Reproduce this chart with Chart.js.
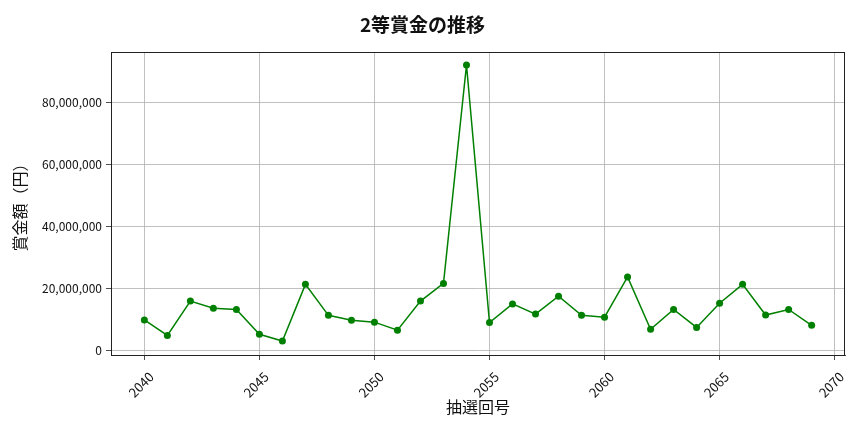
<!DOCTYPE html>
<html lang="ja">
<head>
<meta charset="utf-8">
<title>2等賞金の推移</title>
<script src="https://cdn.jsdelivr.net/npm/chart.js@4/dist/chart.umd.min.js"></script>
<style>
  html, body { margin: 0; padding: 0; background: #fff; }
  #wrap { width: 864px; height: 432px; }
</style>
</head>
<body>
<div id="wrap"><canvas id="prizeChart" width="864" height="432"></canvas></div>
<script>
// --- DONNÉES ---
const drawNumbers = [2040, 2041, 2042, 2043, 2044, 2045, 2046, 2047, 2048, 2049,
                     2050, 2051, 2052, 2053, 2054, 2055, 2056, 2057, 2058, 2059,
                     2060, 2061, 2062, 2063, 2064, 2065, 2066, 2067, 2068, 2069];
const prizeValues = [9700000, 4700000, 15800000, 13500000, 13100000, 5100000, 2900000, 21200000, 11200000, 9600000,
                     9000000, 6400000, 15800000, 21500000, 92000000, 8900000, 14900000, 11600000, 17400000, 11200000,
                     10600000, 23600000, 6700000, 13100000, 7300000, 15100000, 21200000, 11300000, 13100000, 8000000];
const xTicks = [2040, 2045, 2050, 2055, 2060, 2065, 2070];
const yTicks = [0, 20000000, 40000000, 60000000, 80000000];

const FONT = '"Noto Sans CJK JP", "Noto Sans", sans-serif';

// cadre complet autour de la zone de tracé
const frame = {
    id: 'frame',
    afterDatasetsDraw(chart) {
        const { ctx, chartArea: a } = chart;
        ctx.save();
        ctx.strokeStyle = '#222';
        ctx.lineWidth = 1;
        ctx.strokeRect(a.left + 0.5, a.top + 0.5, a.right - a.left - 1, a.bottom - a.top);
        ctx.restore();
    }
};

const points = drawNumbers.map((n, i) => ({ x: n, y: prizeValues[i] }));

new Chart(document.getElementById('prizeChart'), {
    type: 'line',
    data: {
        datasets: [{
            data: points,
            borderColor: '#008000',
            backgroundColor: '#008000',
            borderWidth: 1.5,
            pointRadius: 3.5,
            pointHoverRadius: 3.5,
            pointBorderWidth: 0,
            tension: 0,
            fill: false
        }]
    },
    options: {
        responsive: false,
        animation: false,
        devicePixelRatio: 1,
        layout: { padding: { left: 0, right: 19, top: 0, bottom: 0 } },
        plugins: {
            legend: { display: false },
            tooltip: { enabled: false },
            title: {
                display: true,
                text: '2等賞金の推移',
                color: '#111',
                font: { family: FONT, size: 19, weight: 'bold', lineHeight: 1.2 },
                padding: { top: 13, bottom: 16.2 }
            }
        },
        scales: {
            x: {
                type: 'linear',
                min: 2038.55,
                max: 2070.45,
                afterBuildTicks: s => { s.ticks = xTicks.map(v => ({ value: v })); },
                afterFit: s => { s.height = 77; },
                grid: { color: '#b0b0b0', lineWidth: 0.8, tickLength: 5, tickColor: '#222' },
                border: { color: '#222', width: 1 },
                ticks: {
                    color: '#111',
                    font: { family: FONT, size: 13 },
                    minRotation: 45,
                    maxRotation: 45,
                    labelOffset: 7,
                    padding: 9,
                    callback: v => String(v)
                },
                title: {
                    display: true,
                    text: '抽選回号',
                    color: '#111',
                    font: { family: FONT, size: 16, lineHeight: 1.2 },
                    padding: { top: 0, bottom: 15 }
                }
            },
            y: {
                min: -1600000,
                max: 96200000,
                afterBuildTicks: s => { s.ticks = yTicks.map(v => ({ value: v })); },
                afterFit: s => { s.width = 111; },
                grid: { color: '#b0b0b0', lineWidth: 0.8, tickLength: 5, tickColor: '#222' },
                border: { color: '#222', width: 1 },
                ticks: {
                    color: '#111',
                    font: { family: FONT, size: 12 },
                    padding: 4,
                    callback: v => v.toLocaleString('en-US')
                },
                title: {
                    display: true,
                    text: '賞金額（円）',
                    color: '#111',
                    font: { family: FONT, size: 16, lineHeight: 1.2 },
                    padding: { top: 10, bottom: 0 }
                }
            }
        }
    },
    plugins: [frame]
});
</script>
</body>
</html>
